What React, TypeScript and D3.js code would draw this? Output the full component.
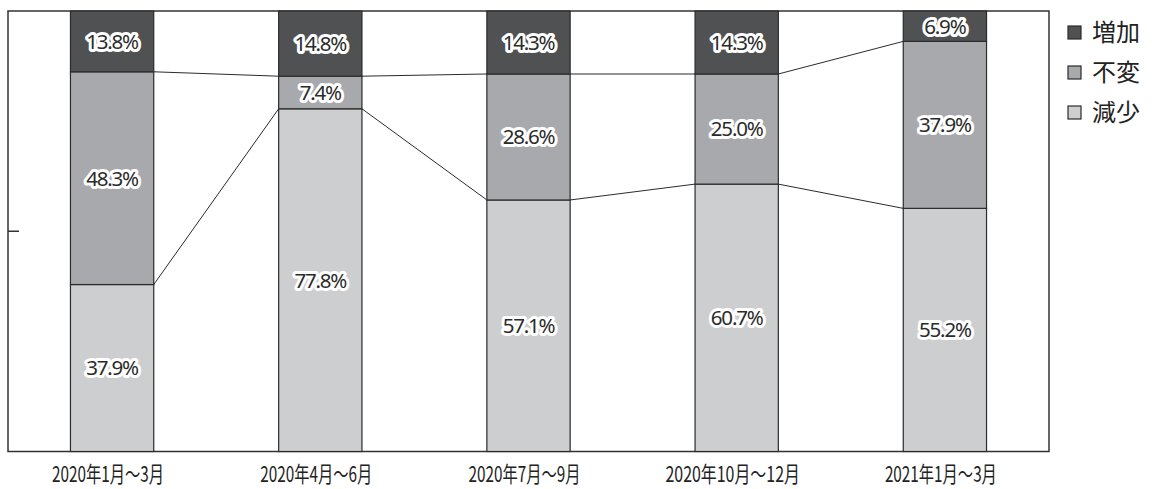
import React from "react";
import * as d3 from "d3";

const categories = ["2020年1月～3月", "2020年4月～6月", "2020年7月～9月", "2020年10月～12月", "2021年1月～3月"];
const seriesNames = ["減少", "不変", "増加"];
const decrease = [37.9, 77.8, 57.1, 60.7, 55.2];
const same = [48.3, 7.4, 28.6, 25.0, 37.9];
const increase = [13.8, 14.8, 14.3, 14.3, 6.9];
const colors = ["#cdcecf", "#a8a9ac", "#505153"];
const legendOrder = [2, 1, 0];

const W = 1158, H = 489;
const left = 8, right = 1049, top = 11, bottom = 451.5;

export default function App() {
  const rows = categories.map((c, i) => ({ cat: c, s0: decrease[i], s1: same[i], s2: increase[i] }));
  const stack = d3.stack<any>().keys(["s0", "s1", "s2"]);
  const series = stack(rows);
  const x = d3.scaleBand().domain(categories).range([left, right]).paddingInner(0.6).paddingOuter(0.3);
  const y = d3.scaleLinear().domain([0, 100]).range([bottom, top]);
  const bw = x.bandwidth();
  const valArrays = [decrease, same, increase];

  const connectors: JSX.Element[] = [];
  [0, 1].forEach((k) => {
    for (let i = 0; i < categories.length - 1; i++) {
      const v1 = series[k][i][1];
      const v2 = series[k][i + 1][1];
      connectors.push(
        <line key={`c${k}-${i}`} x1={x(categories[i])! + bw} y1={y(v1)} x2={x(categories[i + 1])!} y2={y(v2)} stroke="#2b2b2b" strokeWidth={1} />
      );
    }
  });

  return (
    <svg width={W} height={H} style={{ position: "absolute", left: 0, top: 0, background: "#fff" }}>
      <rect x={left} y={top} width={right - left} height={bottom - top} fill="#fff" stroke="#333" strokeWidth={1.5} />
      <line x1={left} x2={left + 11} y1={y(50)} y2={y(50)} stroke="#333" strokeWidth={1.5} />
      {connectors}
      {series.map((s, k) =>
        s.map((d, i) => (
          <rect key={`b${k}-${i}`} x={x(categories[i])} y={y(d[1])} width={bw} height={y(d[0]) - y(d[1])} fill={colors[k]} stroke="#2b2b2b" strokeWidth={1.2} />
        ))
      )}
      {series.map((s, k) =>
        s.map((d, i) => {
          const cx = x(categories[i])! + bw / 2;
          const cy = (y(d[0]) + y(d[1])) / 2;
          const label = valArrays[k][i].toFixed(1) + "%";
          return (
            <text key={`t${k}-${i}`} x={cx} y={cy} dy="0.36em" textAnchor="middle" fontFamily="'Noto Sans', sans-serif" fontSize={20.5} letterSpacing={-1.2} fill="#2b2b2b" stroke="#fff" strokeWidth={6} strokeLinejoin="round" paintOrder="stroke">
              {label}
            </text>
          );
        })
      )}
      {categories.map((c) => (
        <text key={c} x={x(c)! + bw / 2 - 4} y={482} textAnchor="middle" fontFamily="'Noto Sans CJK JP', sans-serif" fontSize={22} fill="#222" textLength={c.length * 11.2} lengthAdjust="spacingAndGlyphs">
          {c}
        </text>
      ))}
      {legendOrder.map((k, j) => (
        <g key={`l${k}`} transform={`translate(1068, ${26 + j * 40})`}>
          <rect x={0} y={0} width={13} height={13} fill={colors[k]} stroke="#2b2b2b" strokeWidth={1.2} />
          <text x={24} y={6.5} dy="0.36em" fontFamily="'Noto Sans CJK JP', sans-serif" fontSize={24} fill="#222">
            {seriesNames[k]}
          </text>
        </g>
      ))}
    </svg>
  );
}
